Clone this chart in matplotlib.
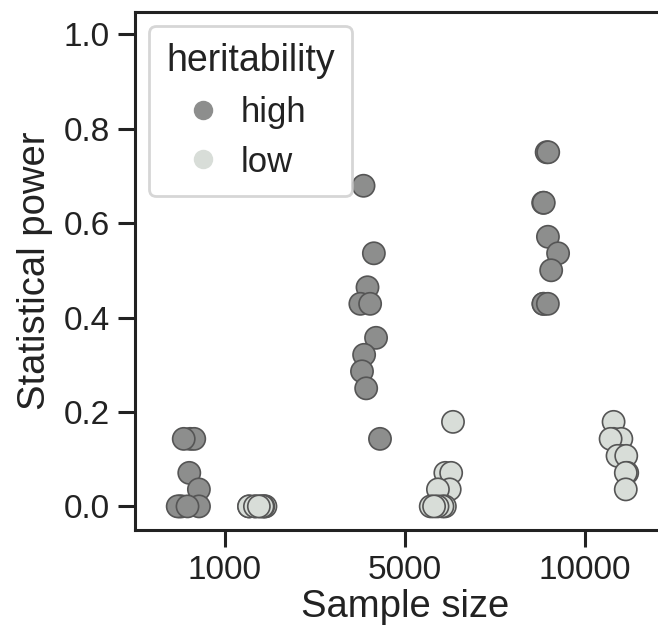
import numpy as np
import pandas as pd
import matplotlib
matplotlib.use("Agg")
import matplotlib.pyplot as plt
from matplotlib.lines import Line2D
import seaborn as sns

sample_sizes = ["1000", "5000", "10000"]
hue_levels = ["high", "low"]

power_1000_high = [0.143, 0.143, 0.143, 0.071, 0.036, 0.0, 0.0, 0.0, 0.0, 0.0]
power_1000_low = [0.0, 0.0, 0.0, 0.0, 0.0, 0.0, 0.0, 0.0, 0.0, 0.0]
power_5000_high = [0.679, 0.536, 0.464, 0.429, 0.429, 0.357, 0.321, 0.286, 0.25, 0.143]
power_5000_low = [0.179, 0.071, 0.071, 0.036, 0.036, 0.0, 0.0, 0.0, 0.0, 0.0]
power_10000_high = [0.75, 0.75, 0.643, 0.643, 0.571, 0.536, 0.5, 0.429, 0.429, 0.429]
power_10000_low = [0.179, 0.143, 0.143, 0.143, 0.107, 0.107, 0.107, 0.071, 0.071, 0.036]

colors = {"high": "#8d8e8d", "low": "#d8ddd8"}

groups = {
    ("1000", "high"): power_1000_high,
    ("1000", "low"): power_1000_low,
    ("5000", "high"): power_5000_high,
    ("5000", "low"): power_5000_low,
    ("10000", "high"): power_10000_high,
    ("10000", "low"): power_10000_low,
}
rows = []
for (n, h), vals in groups.items():
    for v in vals:
        rows.append({"Sample size": n, "heritability": h, "Statistical power": v})
df = pd.DataFrame(rows)

sns.set_style("ticks")
plt.rcParams['font.family'] = ['Liberation Sans', 'DejaVu Sans']

fig = plt.figure(figsize=(6.58, 6.32), dpi=100)
ax = fig.add_axes([135 / 658, 102 / 632, 540 / 658, 518 / 632])

np.random.seed(3)
sns.stripplot(data=df, x="Sample size", y="Statistical power", hue="heritability",
              order=sample_sizes, hue_order=hue_levels, palette=colors,
              dodge=True, jitter=0.14, size=16, linewidth=1.2,
              edgecolor="#555555", ax=ax, legend=False)

ax.set_xlim(-0.5, 2.5)
ax.set_ylim(-0.05, 1.047)
ax.set_yticks([0.0, 0.2, 0.4, 0.6, 0.8, 1.0])
ax.set_yticklabels(["0.0", "0.2", "0.4", "0.6", "0.8", "1.0"])
for s in ["top", "right"]:
    ax.spines[s].set_visible(True)
for s in ax.spines.values():
    s.set_linewidth(2.2)
    s.set_color("#222222")
ax.tick_params(axis="both", labelsize=24, width=2.2, length=12, color="#222222",
               labelcolor="#222222", pad=6)
ax.set_xlabel("Sample size", fontsize=27.5, color="#222222", labelpad=2)
ax.set_ylabel("Statistical power", fontsize=27.5, color="#222222", labelpad=8)

handles = [Line2D([], [], linestyle="none", marker="o", markersize=14,
                  markerfacecolor=colors[h], markeredgewidth=0, label=h)
           for h in hue_levels]
leg = ax.legend(handles=handles, title="heritability", loc="upper left",
                fontsize=25, title_fontsize=27, frameon=True, borderpad=0.5,
                handletextpad=0.05, labelspacing=0.48, handlelength=2.1,
                borderaxespad=0.4, alignment="left")
leg.get_frame().set_edgecolor("#cccccc")
leg.get_frame().set_linewidth(2)
for t in leg.get_texts():
    t.set_color("#222222")
leg.get_title().set_color("#222222")

fig.savefig("out.png", dpi=100)
